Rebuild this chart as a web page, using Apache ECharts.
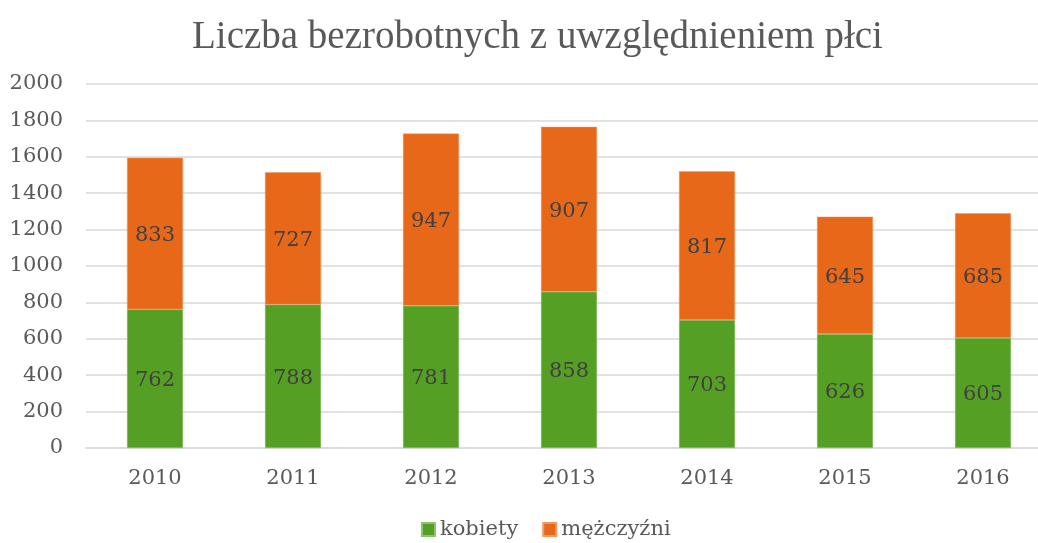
<!DOCTYPE html>
<html><head><meta charset="utf-8">
<script src="https://cdn.jsdelivr.net/npm/echarts@6/dist/echarts.min.js"></script>
<style>html,body{margin:0;padding:0;background:#fff}#c{width:1038px;height:543px}</style>
</head><body><div id="c"></div>
<script>
var years = ['2010','2011','2012','2013','2014','2015','2016'];
var kobiety = [762, 788, 781, 858, 703, 626, 605];
var mezczyzni = [833, 727, 947, 907, 817, 645, 685];
var yTicks = {min: 0, max: 2000, interval: 200};
var FONT = 'DejaVu Serif';
var TITLE_FONT = 'Liberation Serif';
var chart = echarts.init(document.getElementById('c'), null, {renderer: 'canvas'});
chart.setOption({
  animation: false,
  backgroundColor: '#ffffff',
  title: {
    text: 'Liczba bezrobotnych z uwzględnieniem płci',
    left: 187, top: 13,
    textStyle: {fontFamily: TITLE_FONT, fontSize: 39, fontWeight: 'normal', color: '#595959'}
  },
  legend: {
    top: 514, left: 416,
    itemWidth: 13, itemHeight: 13, itemGap: 24,
    icon: 'rect',
    textStyle: {fontFamily: FONT, fontSize: 21, color: '#595959'},
    data: ['kobiety', 'mężczyźni']
  },
  grid: {left: 86, width: 966, top: 84, bottom: 95, containLabel: false, outerBoundsMode: 'none'},
  xAxis: {
    type: 'category', data: years,
    axisLine: {lineStyle: {color: '#d9d9d9', width: 1.5}},
    axisTick: {show: false},
    axisLabel: {fontFamily: FONT, fontSize: 21, color: '#595959', margin: 20}
  },
  yAxis: {
    type: 'value', min: yTicks.min, max: yTicks.max, interval: yTicks.interval,
    axisLine: {show: false}, axisTick: {show: false},
    splitLine: {lineStyle: {color: '#d9d9d9', width: 1.5}},
    axisLabel: {fontFamily: FONT, fontSize: 21, color: '#595959', margin: 23,
      formatter: function (v) { return String(v); }}
  },
  series: [
    {name: 'kobiety', type: 'bar', stack: 'a', data: kobiety, barWidth: 56,
     itemStyle: {color: '#55A024', borderColor: '#8cc46a', borderWidth: 0.5},
     label: {show: true, position: 'inside', offset: [0, 2], fontFamily: FONT, fontSize: 21, color: '#404040'}},
    {name: 'mężczyźni', type: 'bar', stack: 'a', data: mezczyzni, barWidth: 56,
     itemStyle: {color: '#E8681A', borderColor: '#f09a63', borderWidth: 0.5},
     label: {show: true, position: 'inside', offset: [0, 2], fontFamily: FONT, fontSize: 21, color: '#404040'}}
  ]
});
</script></body></html>
